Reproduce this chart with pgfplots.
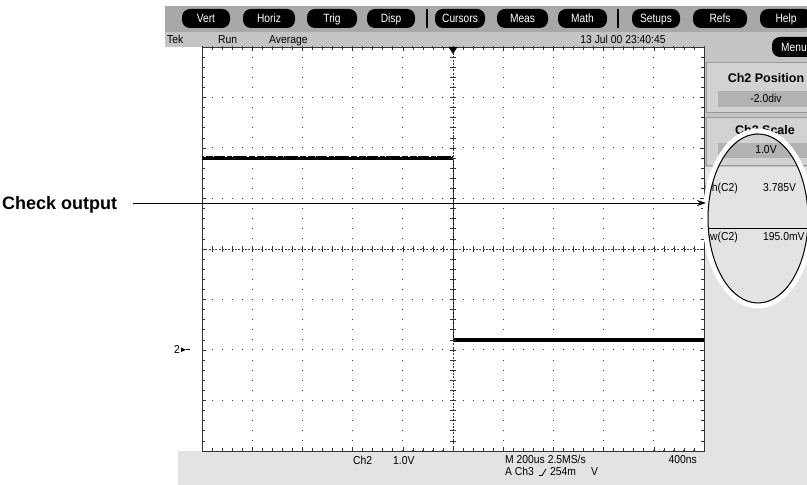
\documentclass[border=0pt]{standalone}
\usepackage{fontspec}
\setmainfont{Liberation Sans}
\newfontfamily\scopefont[FakeStretch=0.9]{Liberation Sans}
\newfontfamily\btnfont[FakeStretch=0.85]{Liberation Sans}
\usepackage{pgfplots}
\pgfplotsset{compat=1.18}
\usetikzlibrary{arrows.meta}
\definecolor{bargray}{HTML}{A8A8A8}
\definecolor{stripgray}{HTML}{C4C4C4}
\definecolor{panelgray}{HTML}{D2D2D2}
\definecolor{fieldgray}{HTML}{B2B2B2}
\definecolor{lowgray}{HTML}{E3E3E3}
\newcommand\sfs{\scopefont\fontsize{11.5bp}{13bp}\selectfont}
\newcommand\bfs{\btnfont\fontsize{12bp}{14bp}\selectfont}
\newcommand\btn[3]{\fill[black,rounded corners=8bp] (#1,457) rectangle (#2,476);
  \node[white,inner sep=0,anchor=base,font=\bfs] at ({(#1+#2)/2},462.3) {#3};}
\begin{document}
\begin{tikzpicture}[x=1bp,y=1bp]
\clip (0,0) rectangle (807,485);
\fill[white] (0,0) rectangle (807,485);
% top bars
\fill[bargray] (165,453) rectangle (807,479);
\fill[stripgray] (165,438) rectangle (807,453);
% right panel background
\fill[stripgray] (704,34) rectangle (807,438);
\fill[panelgray,draw=black!40] (706,373) rectangle (815,423);
\fill[fieldgray] (718,378) rectangle (815,394);
\fill[panelgray,draw=black!40] (706,320) rectangle (815,368);
\fill[fieldgray] (718,327) rectangle (815,342);
\fill[lowgray] (705,34) rectangle (807,318);
% bottom bar
\fill[lowgray] (178,0) rectangle (807,34);
% buttons
\btn{182}{230}{Vert}
\btn{243}{295}{Horiz}
\btn{307}{357}{Trig}
\btn{367}{415}{Disp}
\btn{435}{485}{Cursors}
\btn{497}{548}{Meas}
\btn{558}{607}{Math}
\btn{632}{680}{Setups}
\btn{693}{747}{Refs}
\btn{760}{812}{Help}
\draw[black,line width=1.3bp] (427,457)--(427,476);
\draw[black,line width=1.3bp] (618,457)--(618,476);
\fill[black,rounded corners=8bp] (772,428) rectangle (822,448);
\node[white,inner sep=0,anchor=base west,font=\bfs] at (781,433.8) {Menu};
% status strip
\node[inner sep=0,anchor=base west,font=\sfs] at (167,441) {Tek};
\node[inner sep=0,anchor=base west,font=\sfs] at (218,441) {Run};
\node[inner sep=0,anchor=base west,font=\sfs] at (269,441) {Average};
\node[inner sep=0,anchor=base,font=\sfs] at (623,441) {13 Jul 00 23:40:45};
% panel texts
\node[inner sep=0,anchor=base,font=\bfseries\fontsize{12.5bp}{14bp}\selectfont] at (766,402.5) {Ch2 Position};
\node[inner sep=0,anchor=base,font=\sfs] at (766,382) {-2.0div};
\node[inner sep=0,anchor=base,font=\bfseries\fontsize{12.5bp}{14bp}\selectfont] at (765,350.5) {Ch2 Scale};
\node[inner sep=0,anchor=base,font=\sfs] at (766,331) {1.0V};
\begin{scope}
\clip (705,34) rectangle (807,320);
\node[inner sep=0,anchor=base east,font=\sfs] at (738,293) {High(C2)};
\node[inner sep=0,anchor=base west,font=\sfs] at (763,293) {3.785V};
\draw[black,line width=0.8bp] (705,257)--(807,257);
\node[inner sep=0,anchor=base east,font=\sfs] at (738,244) {Low(C2)};
\node[inner sep=0,anchor=base west,font=\sfs] at (763,244) {195.0mV};
\end{scope}
% bottom texts
\node[inner sep=0,anchor=base west,font=\sfs] at (353,20) {Ch2};
\node[inner sep=0,anchor=base west,font=\sfs] at (393,20) {1.0V};
\node[inner sep=0,anchor=base west,font=\sfs] at (505,21) {M 200us 2.5MS/s};
\node[inner sep=0,anchor=base east,font=\sfs] at (697,21) {400ns};
\node[inner sep=0,anchor=base west,font=\sfs] at (505,9) {A Ch3};
\draw[black,line width=0.8bp] (539,9.5)--(542,9.5)--(546,16);
\node[inner sep=0,anchor=base west,font=\sfs] at (550,9) {254m};
\node[inner sep=0,anchor=base west,font=\sfs] at (591,9) {V};
% graticule
\begin{axis}[at={(202bp,34bp)}, anchor=south west, scale only axis,
  width=502bp, height=404bp,
  xmin=0, xmax=10, ymin=-4, ymax=4,
  xtick={0,...,10}, ytick={-4,...,4}, minor tick num=4,
  xticklabels={}, yticklabels={},
  tick align=inside, major tick length=4bp, minor tick length=3bp,
  tick style={black!80, line width=0.6bp},
  axis line style={black!80, line width=0.8bp},
  grid=major,
  major x grid style={black!75, line width=1bp, dash pattern=on 1bp off 9.1bp, dash phase=0.5bp},
  major y grid style={black!75, line width=1bp, dash pattern=on 1bp off 9.04bp, dash phase=0.5bp},
  axis background/.style={fill=white},
  clip=false]
\addplot[black, line width=4bp, line cap=butt] coordinates {(0,1.8) (5,1.8)};
\addplot[black, line width=4bp, line cap=butt] coordinates {(5,-1.8) (10,-1.8)};
\addplot[black, line width=0.8bp] coordinates {(5,1.8) (5,-1.8)};
\end{axis}
% noise specks on the high trace
\draw[white,line width=0.9bp,dash pattern=on 1.5bp off 7bp on 1bp off 11bp on 2bp off 5bp on 1bp off 14bp on 2.5bp off 6bp] (204,328.3)--(451,328.3);
% centre lines with crosses
\draw[black!75,line width=0.7bp,dash pattern=on 2bp off 1.3bp] (202,236)--(704,236);
\draw[black!75,line width=0.7bp,dash pattern=on 2bp off 1.3bp] (453,34)--(453,438);
\foreach \k in {0,...,50} {\draw[black!80,line width=0.6bp] ({202+\k*10.04},233.3)--({202+\k*10.04},238.7);}
\foreach \k in {0,...,40} {\draw[black!80,line width=0.6bp] (450.3,{34+\k*10.1})--(455.7,{34+\k*10.1});}
% trigger marker
\fill[black] (448.5,438)--(457.5,438)--(453,431)--cycle;
% ground marker
\node[inner sep=0,anchor=base east,font=\sfs] at (180,131) {2};
\fill[black] (181,133)--(181,137.5)--(186,135.2)--cycle;
\draw[black,line width=0.6bp] (186,135.2)--(190,135.2);
% ellipse
\draw[white,line width=5bp] (758,266.5) ellipse [x radius=53, y radius=87.5];
\draw[black,line width=1bp] (758,266.5) ellipse [x radius=50, y radius=84.5];
% check output label and arrow
\node[inner sep=0,anchor=base west,font=\bfseries\fontsize{18bp}{20bp}\selectfont] at (2,275.5) {Check output};
\draw[black,line width=0.9bp,-{Stealth[length=9bp,width=6bp]}] (133,282)--(706,282);
\end{tikzpicture}
\end{document}
